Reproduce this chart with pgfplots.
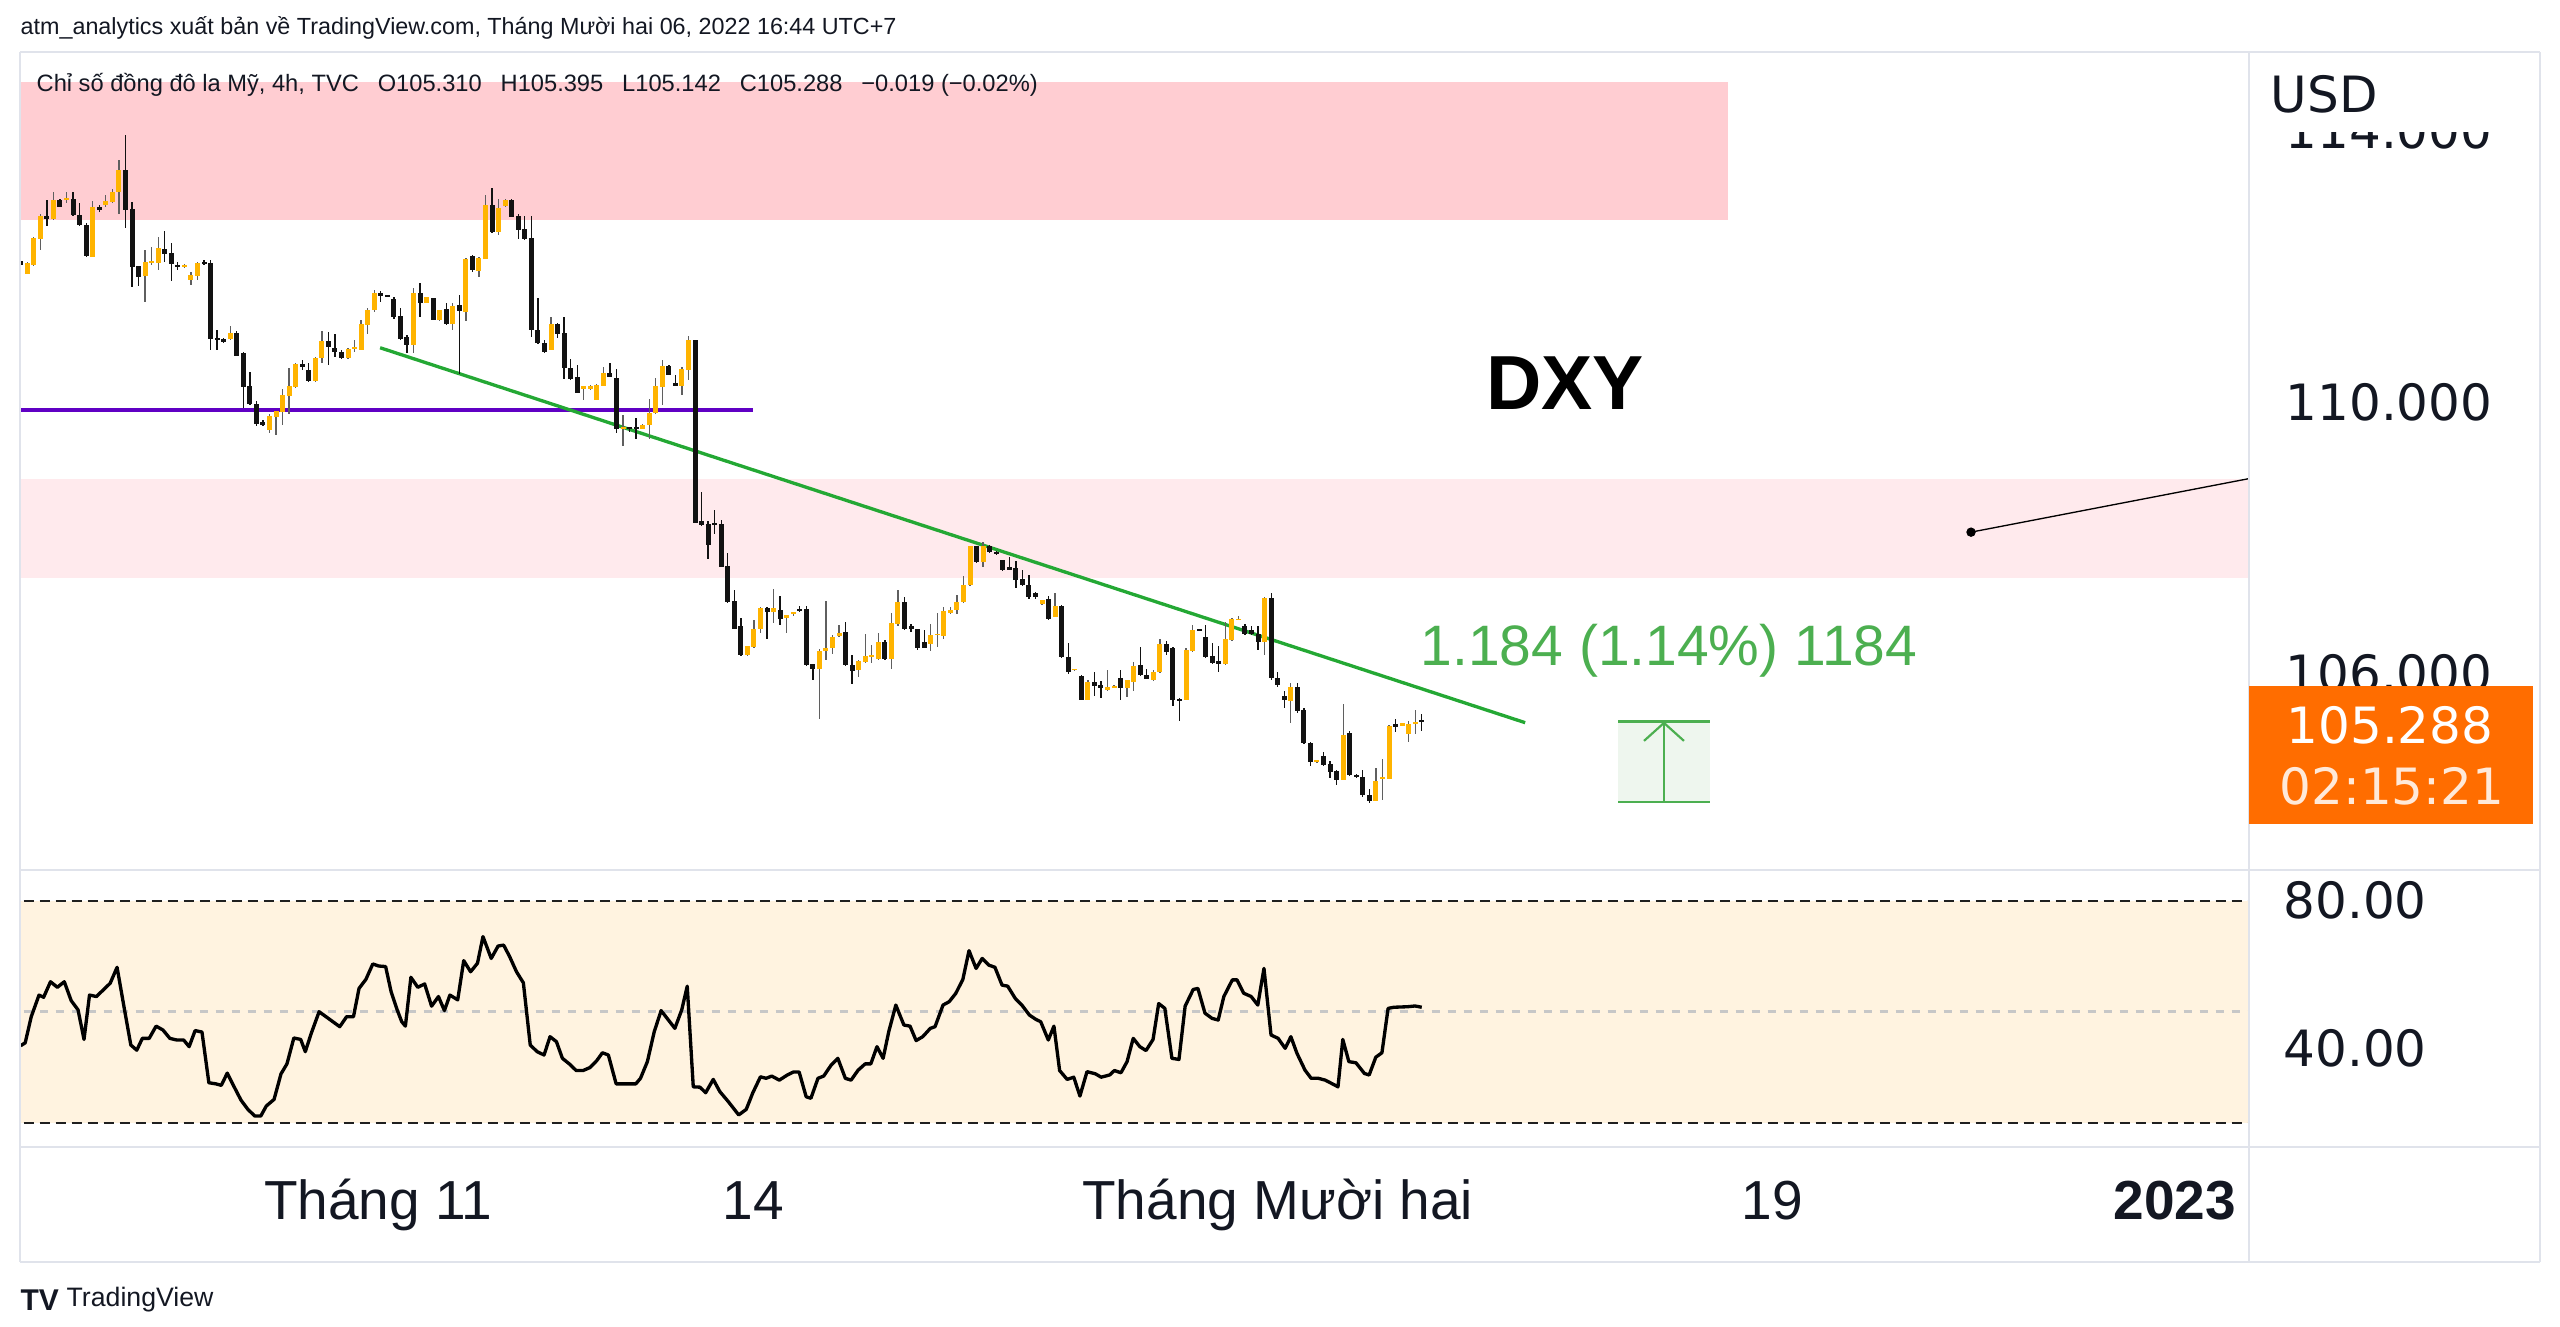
\documentclass[border=0pt]{standalone}
\usepackage{fontspec}
\setmainfont{Liberation Sans}
\newfontfamily\dejavu{DejaVu Sans}
\usepackage{pgfplots}
\pgfplotsset{compat=1.18}
\usepackage{pgfplotstable}
\usetikzlibrary{arrows.meta}

\definecolor{upc}{RGB}{255,180,0}
\definecolor{dnc}{RGB}{18,18,18}
\definecolor{upw}{RGB}{95,95,95}
\definecolor{pinkA}{RGB}{255,205,210}
\definecolor{pinkB}{RGB}{255,234,237}
\definecolor{rsibg}{RGB}{255,243,224}
\definecolor{purp}{RGB}{96,0,196}
\definecolor{trend}{RGB}{36,168,52}
\definecolor{meas}{RGB}{76,175,80}
\definecolor{measbg}{RGB}{238,246,238}
\definecolor{tvorange}{RGB}{255,109,0}
\definecolor{gridc}{RGB}{224,227,235}
\definecolor{txt}{RGB}{19,23,34}

\pgfplotstableread{
i o h l c
0 112.08 112.12 111.99 112.02
1 111.90 112.07 111.89 112.05
2 112.02 112.44 112.00 112.41
3 112.41 112.78 112.24 112.74
4 112.74 112.98 112.59 112.71
5 112.71 113.09 112.68 112.98
6 112.97 112.99 112.87 112.88
7 112.98 113.10 112.93 113.00
8 112.99 113.10 112.74 112.76
9 112.76 112.94 112.59 112.61
10 112.61 112.64 112.14 112.15
11 112.15 112.97 112.14 112.87
12 112.87 112.91 112.81 112.83
13 112.91 113.05 112.88 112.96
14 112.96 113.14 112.93 113.10
15 113.10 113.57 112.78 113.42
16 113.42 113.94 112.56 112.84
17 112.84 112.95 111.70 112.00
18 112.00 112.01 111.71 111.85
19 111.86 112.24 111.48 112.06
20 112.05 112.29 112.02 112.07
21 112.06 112.43 111.95 112.27
22 112.25 112.53 112.07 112.19
23 112.19 112.35 111.79 112.04
24 112.02 112.07 111.95 112.00
25 111.99 112.03 111.97 112.01
26 111.80 111.92 111.73 111.87
27 111.86 112.07 111.80 112.05
28 112.06 112.10 112.02 112.05
29 112.05 112.10 110.77 110.94
30 110.94 111.06 110.77 110.92
31 110.93 110.95 110.87 110.89
32 110.93 111.12 110.91 111.01
33 111.02 111.04 110.68 110.69
34 110.72 110.73 109.91 110.23
35 110.23 110.45 109.96 109.97
36 109.97 110.02 109.64 109.68
37 109.70 109.73 109.64 109.66
38 109.59 109.83 109.54 109.79
39 109.78 109.86 109.51 109.86
40 109.86 110.19 109.66 110.10
41 110.10 110.50 109.83 110.23
42 110.23 110.58 110.20 110.56
43 110.55 110.62 110.47 110.52
44 110.47 110.57 110.29 110.32
45 110.32 110.67 110.30 110.65
46 110.65 111.04 110.57 110.89
47 110.89 111.04 110.55 110.82
48 110.79 111.01 110.67 110.74
49 110.74 110.76 110.63 110.65
50 110.65 110.80 110.63 110.78
51 110.78 110.92 110.73 110.81
52 110.77 111.21 110.76 111.14
53 111.14 111.38 111.00 111.36
54 111.36 111.65 111.33 111.60
55 111.60 111.63 111.47 111.57
56 111.57 111.58 111.55 111.56
57 111.51 111.55 111.23 111.26
58 111.26 111.38 110.91 110.94
59 110.96 110.99 110.72 110.84
60 110.84 111.68 110.72 111.60
61 111.60 111.76 111.26 111.47
62 111.47 111.55 111.46 111.54
63 111.53 111.53 111.21 111.22
64 111.22 111.36 111.20 111.35
65 111.37 111.46 111.14 111.16
66 111.15 111.46 111.07 111.42
67 111.42 111.58 110.42 111.35
68 111.33 112.13 111.19 112.10
69 112.15 112.17 111.92 111.95
70 111.94 112.14 111.84 112.12
71 112.12 113.05 112.12 112.90
72 112.90 113.15 112.49 112.51
73 112.51 112.99 112.47 112.86
74 112.90 112.99 112.88 112.97
75 112.97 112.99 112.73 112.74
76 112.74 112.77 112.41 112.54
77 112.55 112.74 112.39 112.41
78 112.41 112.74 110.96 111.06
79 111.06 111.53 110.86 110.87
80 110.87 110.91 110.72 110.74
81 110.77 111.26 110.77 111.14
82 111.14 111.17 110.94 111.01
83 111.01 111.26 110.34 110.50
84 110.50 110.64 110.32 110.35
85 110.37 110.55 110.13 110.14
86 110.20 110.23 110.03 110.23
87 110.20 110.25 110.18 110.23
88 110.03 110.27 110.03 110.25
89 110.24 110.52 110.23 110.42
90 110.42 110.58 110.37 110.37
91 110.35 110.48 109.54 109.60
92 109.60 109.81 109.35 109.63
93 109.63 109.63 109.56 109.61
94 109.62 109.76 109.45 109.60
95 109.61 109.68 109.60 109.66
96 109.66 110.04 109.45 109.84
97 109.84 110.36 109.83 110.23
98 110.23 110.62 109.96 110.53
99 110.53 110.55 110.41 110.41
100 110.28 110.40 110.23 110.24
101 110.24 110.52 110.10 110.48
102 110.48 110.97 110.32 110.91
103 110.91 110.92 108.21 108.22
104 108.24 108.68 108.17 108.19
105 108.19 108.24 107.69 107.89
106 108.21 108.41 108.06 108.19
107 108.19 108.26 107.56 107.57
108 107.58 107.77 107.03 107.06
109 107.06 107.23 106.66 106.66
110 106.69 106.81 106.25 106.27
111 106.27 106.40 106.25 106.39
112 106.39 106.79 106.37 106.65
113 106.65 106.98 106.59 106.96
114 106.96 106.98 106.51 106.91
115 106.91 107.24 106.74 106.96
116 106.93 107.14 106.71 106.81
117 106.82 106.86 106.59 106.86
118 106.87 106.91 106.85 106.90
119 106.94 106.99 106.90 106.92
120 106.94 106.99 106.10 106.12
121 106.13 106.14 105.90 106.07
122 106.07 106.35 105.33 106.33
123 106.33 107.07 106.20 106.37
124 106.37 106.56 106.29 106.53
125 106.55 106.71 106.53 106.59
126 106.61 106.75 106.10 106.12
127 106.11 106.27 105.84 106.04
128 106.05 106.19 105.94 106.17
129 106.17 106.58 106.15 106.25
130 106.24 106.42 106.15 106.27
131 106.22 106.59 106.20 106.46
132 106.46 106.49 106.20 106.22
133 106.22 106.89 106.07 106.73
134 106.73 107.22 106.69 107.04
135 107.04 107.13 106.64 106.66
136 106.70 106.73 106.61 106.65
137 106.65 106.66 106.34 106.37
138 106.45 106.64 106.37 106.38
139 106.44 106.73 106.32 106.56
140 106.57 106.89 106.39 106.58
141 106.56 106.98 106.51 106.91
142 106.89 106.98 106.88 106.93
143 106.93 107.15 106.87 107.05
144 107.05 107.43 107.03 107.30
145 107.30 107.88 107.28 107.87
146 107.87 107.88 107.63 107.65
147 107.65 107.94 107.57 107.87
148 107.87 107.89 107.78 107.79
149 107.79 107.80 107.75 107.76
150 107.66 107.67 107.51 107.53
151 107.56 107.71 107.52 107.53
152 107.55 107.65 107.25 107.38
153 107.38 107.52 107.29 107.30
154 107.30 107.45 107.10 107.13
155 107.18 107.20 107.10 107.13
156 107.03 107.08 107.01 107.07
157 107.09 107.14 106.79 106.81
158 106.84 107.19 106.83 106.99
159 106.99 107.00 106.22 106.24
160 106.24 106.44 105.99 106.02
161 106.05 106.07 106.03 106.06
162 105.96 105.97 105.60 105.61
163 105.61 105.90 105.60 105.86
164 105.86 106.02 105.66 105.81
165 105.83 105.88 105.63 105.78
166 105.76 106.04 105.74 105.79
167 105.79 105.82 105.79 105.81
168 105.92 106.04 105.60 105.78
169 105.79 105.90 105.65 105.89
170 105.88 106.17 105.73 106.11
171 106.11 106.39 105.96 105.97
172 105.97 106.07 105.91 105.92
173 105.91 106.05 105.89 106.02
174 106.02 106.50 106.01 106.43
175 106.43 106.47 106.27 106.32
176 106.37 106.38 105.51 105.61
177 105.62 105.63 105.29 105.60
178 105.61 106.37 105.60 106.34
179 106.33 106.71 106.32 106.64
180 106.65 106.66 106.62 106.63
181 106.53 106.71 106.22 106.24
182 106.25 106.45 106.14 106.16
183 106.17 106.40 106.02 106.14
184 106.14 106.76 106.12 106.50
185 106.49 106.81 106.48 106.79
186 106.79 106.84 106.78 106.80
187 106.70 106.73 106.56 106.59
188 106.63 106.69 106.56 106.59
189 106.58 106.69 106.34 106.47
190 106.47 107.13 106.27 107.10
191 107.10 107.18 105.90 105.93
192 105.93 106.02 105.80 105.83
193 105.66 105.73 105.48 105.61
194 105.60 105.85 105.26 105.80
195 105.80 105.85 105.42 105.45
196 105.46 105.48 104.96 104.97
197 104.97 104.98 104.63 104.70
198 104.70 104.72 104.68 104.71
199 104.78 104.84 104.63 104.65
200 104.66 104.70 104.46 104.55
201 104.55 104.57 104.35 104.43
202 104.43 105.55 104.42 105.09
203 105.12 105.15 104.48 104.50
204 104.50 104.51 104.46 104.47
205 104.47 104.57 104.18 104.20
206 104.20 104.30 104.08 104.12
207 104.12 104.60 104.11 104.40
208 104.45 104.73 104.13 104.47
209 104.45 105.24 104.44 105.21
210 105.25 105.33 105.13 105.21
211 105.23 105.27 105.22 105.26
212 105.11 105.29 104.99 105.25
213 105.25 105.46 105.11 105.27
214 105.310 105.395 105.142 105.288
}\candles

\pgfplotstableread{
x r
0.0 40.8
0.69 41.6
1.61 48.65
2.80 54.5
3.50 53.9
4.55 58.1
5.60 56.6
6.66 58.1
7.71 53.0
8.76 50.5
9.67 42.5
10.51 54.5
11.56 54.1
12.62 55.9
13.67 57.7
14.72 62.0
15.77 51.4
16.82 41.0
17.73 39.6
18.58 42.8
19.63 42.8
20.68 46.1
21.73 45.05
22.78 42.8
23.83 42.35
24.89 42.35
25.73 40.55
26.64 44.9
27.69 44.5
28.74 30.8
29.80 30.5
30.64 30.1
31.55 33.4
32.60 29.7
33.65 26.1
34.70 23.6
35.76 21.8
36.67 21.8
37.51 24.5
38.70 26.3
39.76 33.2
40.67 35.9
41.72 42.9
42.77 42.5
43.47 39.2
44.38 44.15
45.58 50.0
46.63 48.65
47.68 47.3
48.73 45.95
49.78 48.65
50.83 48.65
51.68 56.3
52.73 58.75
53.78 62.9
54.69 62.35
55.74 62.2
56.58 55.4
57.50 50.5
58.20 47.3
58.76 46.1
59.60 59.3
60.65 56.6
61.70 57.5
62.76 51.5
63.81 54.1
64.72 50.3
65.56 54.5
66.75 53.2
67.67 63.8
68.72 60.8
69.77 63.1
70.61 70.3
71.87 64.4
72.92 67.75
73.77 68.0
74.68 64.9
75.73 60.8
76.78 57.8
77.83 41.0
78.88 39.2
79.94 38.3
80.85 43.25
81.83 41.9
82.74 37.4
83.79 35.9
84.85 34.1
85.90 34.1
86.95 34.9
88.00 36.8
88.85 38.9
89.76 38.3
90.95 30.5
92.07 30.5
93.05 30.5
93.96 30.5
94.67 32.0
95.72 36.5
96.77 44.6
97.82 50.3
98.87 47.9
99.92 45.5
100.97 50.5
101.81 56.9
102.73 29.7
103.76 29.6
104.62 28.1
105.78 31.7
106.79 28.4
108.08 25.7
109.67 22.1
110.82 23.6
111.83 28.1
112.99 32.4
113.85 32.0
114.72 32.6
115.87 31.5
117.10 32.9
118.03 33.7
118.90 33.7
119.98 27.0
120.70 26.6
121.78 32.0
122.65 32.6
123.80 35.6
124.81 37.4
125.96 32.0
126.83 31.5
127.91 34.2
128.99 35.9
129.85 35.9
130.79 40.55
131.73 37.4
132.59 44.6
133.67 51.8
134.90 46.4
135.84 46.1
136.77 42.2
137.78 43.25
138.94 45.5
139.66 45.95
140.88 51.8
141.82 52.7
142.83 54.96
143.91 58.75
144.85 66.5
145.93 61.7
146.86 64.4
147.87 62.6
148.81 62.0
149.89 57.2
150.76 56.9
151.91 53.6
152.92 51.8
154.07 49.1
155.08 47.9
155.80 47.3
156.96 42.35
157.82 46.1
158.69 34.1
159.84 31.7
160.85 32.3
161.79 27.2
162.87 33.8
164.17 33.2
165.03 32.3
166.33 32.9
167.05 34.1
168.06 33.5
168.99 36.5
169.93 42.8
170.94 40.55
171.88 39.5
172.96 42.5
173.82 52.2
174.76 50.9
175.84 37.4
176.92 37.1
177.86 51.5
179.09 56.0
179.81 56.3
180.89 49.6
181.97 48.2
182.91 47.75
183.77 54.1
185.07 58.6
185.79 58.6
186.80 55.0
187.95 54.1
188.96 51.8
189.90 61.7
190.98 43.7
192.06 42.8
193.14 40.1
194.01 43.25
194.94 38.75
196.17 34.2
197.11 32.0
198.19 32.0
199.27 31.5
200.35 30.5
201.21 29.7
201.94 42.5
202.87 36.5
203.95 36.2
205.25 33.3
205.97 32.9
206.98 37.7
207.92 38.9
208.86 50.9
209.72 51.2
211.88 51.35
212.97 51.55
214.00 51.2
}\rsi

\tikzset{numfont/.style={font=\dejavu\fontsize{15pt}{18pt}\selectfont, text=txt}}
\pgfplotsset{
  tvaxis/.style={scale only axis, width=668.7pt, xmin=-0.107, xmax=340.36,
    axis line style={draw=none}, major tick length=0pt, tick style={draw=none},
    clip=true},
  candle/.style n args={3}{draw=none, mark=none, forget plot,
    restrict expr to domain={\thisrow{c}-\thisrow{o}}{#1},
    error bars/.cd, y dir=both, y explicit, error mark=none,
    error bar style={draw=#2, line width=#3, solid}},
}

\begin{document}
\begin{tikzpicture}
\begin{scope}[x=0.3pt,y=-0.3pt]
\path[use as bounding box] (0,0) rectangle (2560,1326);
\end{scope}

% ---------------- price pane ----------------
\begin{axis}[tvaxis, at={(6pt,-15.6pt)}, anchor=north west, height=245.4pt,
  ymin=103.097, ymax=115.162, xtick=\empty,
  ytick={106,110,114}, yticklabels={106.000,110.000,114.000},
  yticklabel pos=right,
  yticklabel style={anchor=west, inner sep=0pt, xshift=10.8pt, numfont}]
  \fill[pinkA] (axis cs:-2,112.68) rectangle (axis cs:260.8,114.72);
  \fill[pinkB] (axis cs:-2,107.40) rectangle (axis cs:345,108.86);
  \addplot[purp, line width=1pt] coordinates {(-2,109.88) (111.9,109.88)};
  \addplot[trend, line width=1pt] coordinates {(54.9,110.80) (229.8,105.27)};
  % wicks
  \addplot[candle={0:100}{upw}{0.4pt}]
    table[x=i, y expr={(\thisrow{h}+\thisrow{l})/2}, y error expr={(\thisrow{h}-\thisrow{l})/2}] {\candles};
  \addplot[candle={-100:-0.00001}{dnc}{0.4pt}]
    table[x=i, y expr={(\thisrow{h}+\thisrow{l})/2}, y error expr={(\thisrow{h}-\thisrow{l})/2}] {\candles};
  % bodies
  \addplot[candle={0:100}{upc}{1.5pt}]
    table[x=i, y expr={(\thisrow{o}+\thisrow{c})/2}, y error expr={abs(\thisrow{c}-\thisrow{o})/2+0.004}] {\candles};
  \addplot[candle={-100:-0.00001}{dnc}{1.5pt}]
    table[x=i, y expr={(\thisrow{o}+\thisrow{c})/2}, y error expr={abs(\thisrow{c}-\thisrow{o})/2+0.004}] {\candles};
  % measurement tool
  \fill[measbg] (axis cs:244.0,104.104) rectangle (axis cs:258.0,105.288);
  \addplot[meas, line width=0.65pt] coordinates {(244.0,105.288) (258.0,105.288)};
  \addplot[meas, line width=0.65pt] coordinates {(244.0,104.104) (258.0,104.104)};
  \addplot[meas, line width=0.65pt, -{Straight Barb[length=5.4pt,width=12pt]}] coordinates {(251.0,104.104) (251.0,105.288)};
  % callout line
  \addplot[black, line width=0.4pt] coordinates {(297.9,108.08) (345,108.956)};
  \addplot[black, only marks, mark=*, mark size=1.2pt] coordinates {(297.9,108.08)};
\end{axis}

% ---------------- RSI pane ----------------
\begin{axis}[tvaxis, at={(6pt,-261pt)}, anchor=north west, height=83.1pt,
  ymin=13.43, ymax=88.30,
  ytick={40,80}, yticklabels={40.00,80.00},
  yticklabel pos=right,
  yticklabel style={anchor=west, inner sep=0pt, xshift=10.2pt, numfont},
  xtick={54.6,111.9,192.0,267.5,329.0},
  xticklabels={Tháng 11,14,Tháng Mười hai,19,{\bfseries 2023}},
  xticklabel style={anchor=base, inner sep=0pt, yshift=-21.6pt,
    font=\fontsize{16.5pt}{19pt}\selectfont, text=txt}]
  \fill[rsibg] (axis cs:-2,20) rectangle (axis cs:345,80);
  \addplot[black!88, line width=0.6pt, dash pattern=on 3pt off 1.8pt] coordinates {(-2,80) (345,80)};
  \addplot[black!88, line width=0.6pt, dash pattern=on 3pt off 1.8pt] coordinates {(-2,20) (345,20)};
  \addplot[black!22, line width=0.8pt, dash pattern=on 2.6pt off 2.2pt] coordinates {(-2,50) (345,50)};
  \addplot[black, line width=1.0pt, line join=round] table[x=x, y=r] {\rsi};
\end{axis}

\begin{scope}[x=0.3pt,y=-0.3pt]
% ---------------- frame ----------------
\begin{scope}[gridc, line width=0.6pt]
\draw (20,52) -- (2540,52);
\draw (20,870) -- (2540,870);
\draw (20,1147) -- (2540,1147);
\draw (20,1262) -- (2540,1262);
\draw (20,52) -- (20,1262);
\draw (2249,52) -- (2249,1262);
\draw (2540,52) -- (2540,1262);
\end{scope}

% ---------------- right axis extras ----------------
\fill[white] (2251,53) rectangle (2538,132);
\node[anchor=west, inner sep=0pt, numfont] at (2270,94) {USD};
\fill[tvorange] (2249,686) rectangle (2533,824);
\node[inner sep=0pt, font=\dejavu\fontsize{15pt}{18pt}\selectfont, text=white] at (2390,725) {105.288};
\node[inner sep=0pt, font=\dejavu\fontsize{15pt}{18pt}\selectfont, text=white!85!tvorange] at (2392,786) {02:15:21};

% ---------------- texts ----------------
\node[anchor=west, inner sep=0pt, font=\fontsize{7pt}{8pt}\selectfont, text=txt] at (20,28)
  {atm\_analytics xuất bản về TradingView.com, Tháng Mười hai 06, 2022 16:44 UTC+7};
\node[anchor=west, inner sep=0pt, font=\fontsize{7.1pt}{8pt}\selectfont, text=txt] at (36,85)
  {Chỉ số đồng đô la Mỹ, 4h, TVC\hspace{0.8em}O105.310\hspace{0.8em}H105.395\hspace{0.8em}L105.142\hspace{0.8em}C105.288\hspace{0.8em}−0.019 (−0.02\%)};
\node[inner sep=0pt, font=\bfseries\fontsize{23pt}{26pt}\selectfont, text=black] at (1565,383) {DXY};
\node[anchor=base west, inner sep=0pt, font=\fontsize{17.1pt}{20pt}\selectfont, text=meas] at (1420,665) {1.184 (1.14\%) 1184};

% footer
\node[anchor=west, inner sep=0pt, font=\bfseries\fontsize{9pt}{10pt}\selectfont, text=txt] at (20,1300) {TV};
\node[anchor=west, inner sep=0pt, font=\fontsize{8pt}{10pt}\selectfont, text=txt] at (66,1300) {TradingView};
\end{scope}
\end{tikzpicture}
\end{document}
